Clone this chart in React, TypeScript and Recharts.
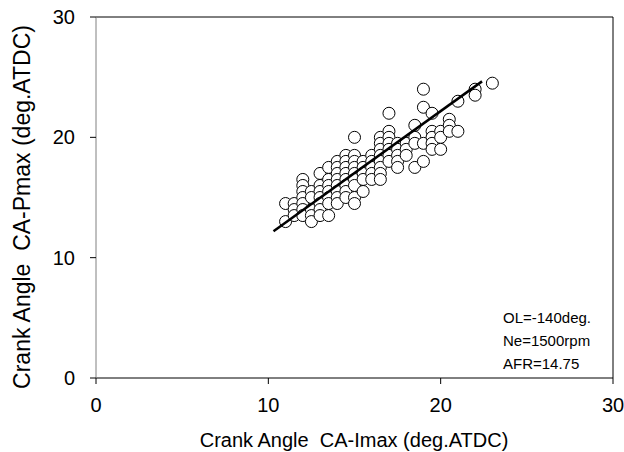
import React from "react"
import {
  ScatterChart,
  Scatter,
  XAxis,
  YAxis,
  ReferenceLine,
} from "recharts"

// CA-Imax columns (deg.ATDC) and CA-Pmax values measured in each column
const imaxColumns = [
  11, 11.5, 12, 12.5, 13, 13.5, 14, 14.5, 15, 15.5, 16, 16.5, 17, 17.5, 18, 18.5,
  19, 19.5, 20, 20.5, 21, 22, 23,
]
const pmaxByColumn = [
  [14.5, 13],
  [14.5, 14, 13.5],
  [16.5, 16, 15.5, 15, 14.5, 14, 13.5],
  [15.5, 15, 14, 13.5, 13],
  [17, 16, 15.5, 15, 14.5, 14, 13.5],
  [17.5, 16.5, 16, 15.5, 15, 14.5, 13.5],
  [18, 17.5, 17, 16.5, 16, 15.5, 15, 14.5],
  [18.5, 18, 17.5, 17, 16.5, 16, 15.5, 15],
  [20, 18.5, 18, 17.5, 17, 16.5, 16, 15, 14.5],
  [18, 17.5, 17, 16.5, 15.5],
  [18.5, 18, 17.5, 17, 16.5],
  [20, 19.5, 19, 18.5, 18, 17.5, 17, 16.5],
  [22, 20.5, 20, 19.5, 19, 18.5, 18],
  [19.5, 19, 18.5, 18, 17.5],
  [19.5, 19, 18.5],
  [21, 20, 19.5, 17.5],
  [24, 22.5, 19.5, 18],
  [22, 20.5, 20, 19.5, 19],
  [20.5, 20, 19],
  [21.5, 21, 20.5],
  [23, 20.5],
  [24, 23.5],
  [24.5],
]

// regression line end points
const fitImax = [10.3, 22.4]
const fitPmax = [12.2, 24.65]

const axisTicks = [0, 10, 20, 30]
const noteLines = ["OL=-140deg.", "Ne=1500rpm", "AFR=14.75"]

const points = imaxColumns.flatMap((x, i) => pmaxByColumn[i].map((y) => ({ x, y })))
const fitData = fitImax.map((x, i) => ({ x, y: fitPmax[i] }))

const font = "'Liberation Sans', Arial, sans-serif"

const OpenCircle = (props: any) => (
  <circle cx={props.cx} cy={props.cy} r={6} fill="#ffffff" stroke="#000000" strokeWidth={1} />
)

export default function App() {
  return (
    <div style={{ position: "absolute", left: 0, top: 0, background: "#fff" }}>
      <ScatterChart
        width={624}
        height={452}
        margin={{ top: 17, right: 11, bottom: 34, left: 36 }}
        style={{ fontFamily: font }}
      >
        <XAxis
          type="number"
          dataKey="x"
          domain={[0, 30]}
          ticks={axisTicks}
          allowDataOverflow
          height={40}
          tickSize={6}
          tickMargin={14}
          axisLine={{ stroke: "#000", strokeWidth: 1 }}
          tickLine={{ stroke: "#000", strokeWidth: 1 }}
          tick={{ fill: "#000", fontSize: 20, fontFamily: font }}
        />
        <YAxis
          type="number"
          dataKey="y"
          domain={[0, 30]}
          ticks={axisTicks}
          allowDataOverflow
          width={60}
          tickSize={6}
          tickMargin={15}
          axisLine={{ stroke: "#808080", strokeWidth: 1 }}
          tickLine={{ stroke: "#000", strokeWidth: 1 }}
          tick={{ fill: "#000", fontSize: 20, fontFamily: font }}
        />
        <ReferenceLine y={30} stroke="#000" strokeWidth={1} />
        <ReferenceLine x={30} stroke="#000" strokeWidth={1} />
        <Scatter data={points} shape={OpenCircle} isAnimationActive={false} />
        <Scatter
          data={fitData}
          line={{ stroke: "#000", strokeWidth: 2.5 }}
          shape={() => <g />}
          isAnimationActive={false}
        />
        <text
          x={354}
          y={447}
          textAnchor="middle"
          fontSize={20}
          fontFamily={font}
          fill="#000"
          style={{ whiteSpace: "pre" }}
        >
          Crank Angle  CA-Imax (deg.ATDC)
        </text>
        <text
          transform="translate(30, 207) rotate(-90)"
          textAnchor="middle"
          fontSize={23}
          fontFamily={font}
          fill="#000"
          style={{ whiteSpace: "pre" }}
        >
          Crank Angle  CA-Pmax (deg.ATDC)
        </text>
        {noteLines.map((line, i) => (
          <text key={line} x={503} y={323 + i * 23} fontSize={15} fontFamily={font} fill="#000">
            {line}
          </text>
        ))}
      </ScatterChart>
    </div>
  )
}
